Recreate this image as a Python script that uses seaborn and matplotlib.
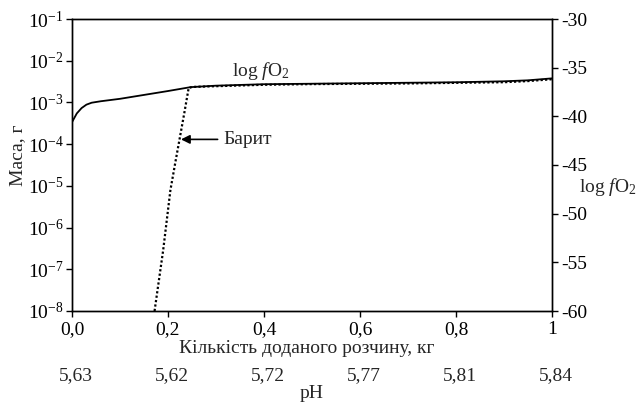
import numpy as np
import pandas as pd
import matplotlib
matplotlib.use("Agg")
import matplotlib.pyplot as plt
import matplotlib.ticker as mticker
import matplotlib.transforms as mtransforms
import seaborn as sns

# log fO2 curve (right axis)
fo2_x = [0, 0.01, 0.02, 0.03, 0.041, 0.06, 0.1, 0.15, 0.2, 0.247,
         0.3, 0.4, 0.5, 0.6, 0.7, 0.8, 0.9, 0.95, 1.0]
fo2_val = [-40.6, -39.7, -39.15, -38.8, -38.6, -38.45, -38.2, -37.8, -37.4, -37.0,
           -36.85, -36.7, -36.65, -36.6, -36.55, -36.5, -36.4, -36.3, -36.1]

# barite mass, g (left axis)
barite_x = [0.172, 0.19, 0.205, 0.215, 0.224, 0.234, 0.243, 0.25, 0.3,
            0.4, 0.5, 0.6, 0.7, 0.8, 0.9, 0.95, 1.0]
barite_mass = [1.0e-8, 2.9e-7, 7.9e-6, 3.5e-5, 1.3e-4, 5.6e-4, 2.2e-3, 2.35e-3, 2.45e-3,
               2.65e-3, 2.75e-3, 2.8e-3, 2.85e-3, 2.95e-3, 3.05e-3, 3.25e-3, 3.6e-3]

x_ticks = [0.0, 0.2, 0.4, 0.6, 0.8, 1.0]
x_labels = ["0,0", "0,2", "0,4", "0,6", "0,8", "1"]
ph_labels = ["5,63", "5,62", "5,72", "5,77", "5,81", "5,84"]

sns.set_theme(style="ticks")
plt.rcParams["font.family"] = ["Liberation Serif", "DejaVu Serif"]
plt.rcParams["mathtext.fontset"] = "custom"
plt.rcParams["mathtext.rm"] = "Liberation Serif"
plt.rcParams["mathtext.it"] = "Liberation Serif:italic"
plt.rcParams["axes.unicode_minus"] = False
FS = 14

fig, ax = plt.subplots(figsize=(6.36, 4.05), dpi=100)
fig.subplots_adjust(left=72 / 636, right=552 / 636, top=1 - 19 / 405, bottom=1 - 311 / 405)
ax2 = ax.twinx()

barite = pd.DataFrame({"x": barite_x, "mass": barite_mass})
fo2 = pd.DataFrame({"x": fo2_x, "val": fo2_val})

sns.lineplot(data=barite, x="x", y="mass", ax=ax, color="black",
             linestyle=(0, (1, 1)), linewidth=1.6)
sns.lineplot(data=fo2, x="x", y="val", ax=ax2, color="black", linewidth=1.3)

ax.set_yscale("log")
ax.set_ylim(1e-8, 1e-1)
ax.set_xlim(0, 1)
ax2.set_ylim(-60, -30)
ax2.set_yticks(np.arange(-60, -29, 5))

ax.yaxis.set_major_locator(mticker.LogLocator(base=10, numticks=10))
ax.yaxis.set_minor_locator(mticker.NullLocator())
ax.yaxis.set_major_formatter(mticker.FuncFormatter(
    lambda v, p: r"10$^{%d}$" % int(round(np.log10(v)))))
ax.set_xticks(x_ticks)
ax.set_xticklabels(x_labels)

for a in (ax, ax2):
    for s in a.spines.values():
        s.set_linewidth(1.0)
        s.set_color("black")
    a.tick_params(direction="out", length=4, width=1, colors="black",
                  labelsize=FS, pad=2)
ax.tick_params(axis="x", pad=3)
ax2.tick_params(axis="y", pad=3)

ax.set_xlabel("Кількість доданого розчину, кг", fontsize=FS, labelpad=0)
ax.xaxis.set_label_coords(0.49, -0.127)
ax.xaxis.label.set_va("center")
ax.set_ylabel("Маса, г", fontsize=FS)
ax.yaxis.set_label_coords(-0.095, 0.534)
ax2.set_ylabel(r"log $\mathit{f}$O$_2$", fontsize=FS, rotation=0, ha="left", va="center")
ax2.yaxis.set_label_coords(1.056, 0.425)

trans = mtransforms.blended_transform_factory(ax.transData, ax.transAxes)
for xv, lab in zip(x_ticks, ph_labels):
    ax.text(xv + 0.009, -0.22, lab, transform=trans, ha="center", va="center", fontsize=FS)
ax.text(0.5, -0.282, "pH", transform=ax.transAxes, ha="center", va="center", fontsize=FS)

ax2.text(0.393, -35.3, r"log $\mathit{f}$O$_2$", ha="center", va="center", fontsize=FS)
ax.annotate("Барит", xy=(0.227, 1.3e-4), xytext=(0.316, 1.3e-4),
            ha="left", va="center", fontsize=FS,
            arrowprops=dict(arrowstyle="-|>", color="black", lw=1.2,
                            shrinkA=2, shrinkB=0, mutation_scale=13))

fig.savefig("out.png", dpi=100)
